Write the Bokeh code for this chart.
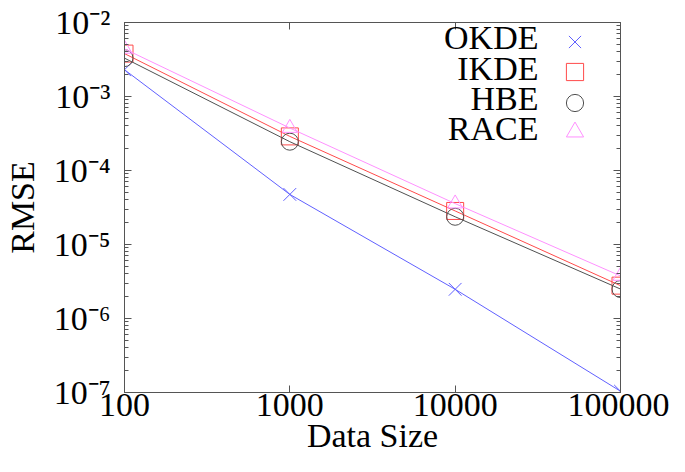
from bokeh.plotting import figure
from bokeh.models import (Range1d, FixedTicker, LogAxis, Legend, LegendItem, Label)
from bokeh.embed import file_html
from bokeh.resources import INLINE

# ---- data ----
sizes = [100, 1000, 10000, 100000]
okde = [2.3e-3, 4.75e-5, 2.48e-6, 1.04e-7]
ikde = [3.8e-3, 2.89e-4, 2.84e-5, 2.78e-6]
hbe = [3.3e-3, 2.45e-4, 2.37e-5, 2.50e-6]
race = [4.4e-3, 3.75e-4, 3.57e-5, 3.76e-6]
series_names = ["OKDE", "IKDE", "HBE", "RACE"]

x_ticks = [100, 1000, 10000, 100000]
x_tick_labels = ["100", "1000", "10000", "100000"]
y_ticks = [1e-7, 1e-6, 1e-5, 1e-4, 1e-3, 1e-2]
y_tick_labels = ["10\u207b\u2077", "10\u207b\u2076", "10\u207b\u2075",
                 "10\u207b\u2074", "10\u207b\u00b3", "10\u207b\u00b2"]

FONT = "'Liberation Serif', 'Times New Roman', serif"
FS = "34px"
AXC = "#555555"

p = figure(width=669, height=456, x_axis_type="log", y_axis_type="log",
           x_range=Range1d(100, 100000), y_range=Range1d(1e-7, 1e-2),
           output_backend="svg", toolbar_location=None,
           min_border_left=122, min_border_right=49, min_border_top=22,
           min_border_bottom=62)
p.grid.visible = False
p.outline_line_color = AXC
p.background_fill_color = "white"
p.border_fill_color = "white"

y_minor = [k * t for t in y_ticks[:-1] for k in range(2, 10)]
xt = FixedTicker(ticks=x_ticks, minor_ticks=[])
yt = FixedTicker(ticks=y_ticks, minor_ticks=y_minor)


def style_axis(ax, show_labels):
    ax.axis_line_color = AXC
    ax.major_tick_line_color = AXC
    ax.minor_tick_line_color = AXC
    ax.major_tick_in = 7
    ax.major_tick_out = 0
    ax.minor_tick_in = 4
    ax.minor_tick_out = 0
    if show_labels:
        ax.major_label_text_font = FONT
        ax.major_label_text_font_size = FS
        ax.major_label_text_color = "black"
        ax.axis_label_text_font = FONT
        ax.axis_label_text_font_size = FS
        ax.axis_label_text_font_style = "normal"
        ax.axis_label_text_color = "black"
    else:
        ax.major_label_text_font_size = "1px"
        ax.major_label_text_color = None
        ax.major_label_standoff = 0


xa = p.xaxis[0]
xa.ticker = xt
xa.major_label_overrides = dict(zip(x_ticks, x_tick_labels))
xa.axis_label = "Data Size"
style_axis(xa, True)
xa.major_label_standoff = 1
xa.axis_label_standoff = -2

ya = p.yaxis[0]
ya.ticker = yt
ya.major_label_overrides = dict(zip(y_ticks, y_tick_labels))
ya.axis_label = "RMSE"
style_axis(ya, True)
ya.major_label_standoff = 14
ya.axis_label_standoff = 10

top = LogAxis(ticker=xt)
style_axis(top, False)
p.add_layout(top, "above")
right = LogAxis(ticker=yt)
style_axis(right, False)
p.add_layout(right, "right")

colors = ["#6060ff", "#ff4a4a", "#505050", "#ff90ff"]
markers = ["x", "square", "circle", "triangle"]
msizes = [18, 17, 17, 15]
data = [okde, ikde, hbe, race]

# legend rows (frame-relative screen px, measured from frame bottom)
marker_rows = [351, 321, 290, 261]
text_rows = [355, 324, 294, 264]

for name, ys, c, m, s, my in zip(series_names, data, colors, markers, msizes,
                                 marker_rows):
    p.line(sizes, ys, line_color=c, line_width=1)
    r = p.scatter(sizes, ys, marker=m, size=s, line_color=c, fill_color=None,
                  line_width=1)
    lg = Legend(items=[LegendItem(label=" ", renderers=[r])],
                location=(429, my - 21.5), glyph_width=43, glyph_height=43,
                padding=0, margin=0, label_text_font_size="10px",
                border_line_alpha=0, background_fill_alpha=0,
                label_height=10, label_width=1, label_standoff=0)
    p.add_layout(lg, "center")

for name, yy in zip(series_names, text_rows):
    p.add_layout(Label(x=414, y=yy, x_units="screen", y_units="screen",
                       text=name, text_align="right",
                       text_baseline="middle",
                       text_font=FONT, text_font_size=FS, text_color="black"))

open("out.html", "w").write(file_html(p, INLINE))
